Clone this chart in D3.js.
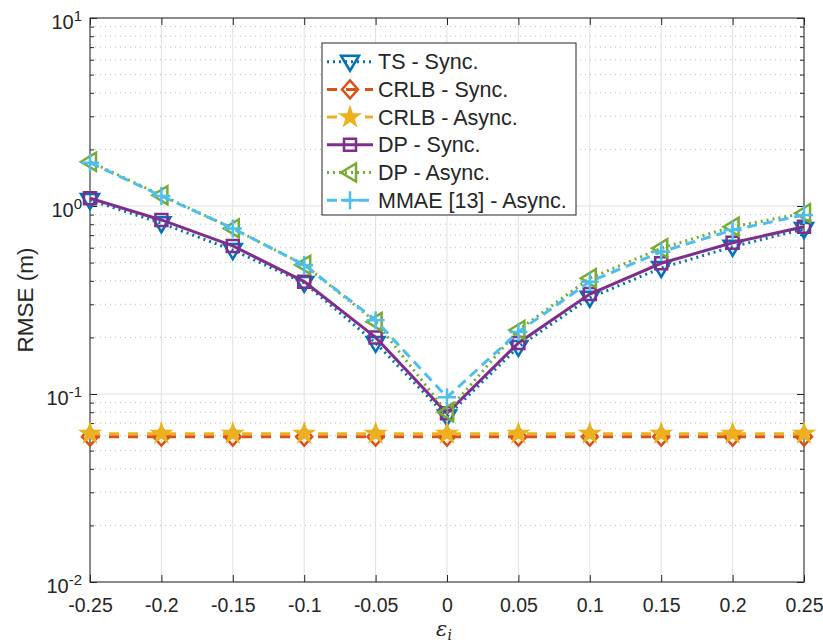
<!DOCTYPE html>
<html>
<head>
<meta charset="utf-8">
<script src="https://cdn.jsdelivr.net/npm/d3@7"></script>
<style>
  body { margin: 0; background: #fff; }
  svg text { font-family: "Liberation Sans", Arial, sans-serif; fill: #262626; }
</style>
</head>
<body>
<div id="chart"></div>
<script>
// values
const epsValues = [-0.25, -0.2, -0.15, -0.1, -0.05, 0, 0.05, 0.1, 0.15, 0.2, 0.25];
const tsSync    = [1.076, 0.81, 0.583, 0.39, 0.187, 0.076, 0.178, 0.325, 0.468, 0.607, 0.755];
const crlbSync  = [0.0593, 0.0593, 0.0593, 0.0593, 0.0593, 0.0593, 0.0593, 0.0593, 0.0593, 0.0593, 0.0593];
const crlbAsync = [0.0615, 0.0615, 0.0615, 0.0615, 0.0615, 0.0615, 0.0615, 0.0615, 0.0615, 0.0615, 0.0615];
const dpSync    = [1.10, 0.843, 0.613, 0.396, 0.20, 0.079, 0.187, 0.34, 0.496, 0.638, 0.776];
const dpAsync   = [1.72, 1.14, 0.76, 0.486, 0.242, 0.080, 0.219, 0.413, 0.596, 0.776, 0.915];
const mmaeAsync = [1.70, 1.13, 0.76, 0.486, 0.247, 0.096, 0.214, 0.396, 0.571, 0.745, 0.895];
const legendLabels = ["TS - Sync.", "CRLB - Sync.", "CRLB - Async.", "DP - Sync.", "DP - Async.", "MMAE [13] - Async."];
const xTicks = [-0.25, -0.2, -0.15, -0.1, -0.05, 0, 0.05, 0.1, 0.15, 0.2, 0.25];
const yDecades = [-2, -1, 0, 1];

const width = 823, height = 644;
const pLeft = 90, pRight = 804, pTop = 18, pBottom = 582;

const svg = d3.select("#chart").append("svg")
    .attr("width", width)
    .attr("height", height);

const x = d3.scaleLinear().domain([-0.25, 0.25]).range([pLeft, pRight]);
const y = d3.scaleLog().domain([0.01, 10]).range([pBottom, pTop]);

// grid: minor dotted, major solid
const minorVals = [];
yDecades.slice(0, -1).forEach(p => {
    for (let k = 2; k <= 9; k++) minorVals.push(k * Math.pow(10, p));
});
svg.append("g").selectAll("line")
    .data(minorVals).enter().append("line")
    .attr("x1", pLeft).attr("x2", pRight)
    .attr("y1", d => y(d)).attr("y2", d => y(d))
    .attr("stroke", "#bdbdbd").attr("stroke-width", 1)
    .attr("stroke-dasharray", "1,4");
svg.append("g").selectAll("line")
    .data(yDecades.map(p => Math.pow(10, p))).enter().append("line")
    .attr("x1", pLeft).attr("x2", pRight)
    .attr("y1", d => y(d)).attr("y2", d => y(d))
    .attr("stroke", "#e1e1e1").attr("stroke-width", 1);
svg.append("g").selectAll("line")
    .data(xTicks).enter().append("line")
    .attr("x1", d => x(d)).attr("x2", d => x(d))
    .attr("y1", pTop).attr("y2", pBottom)
    .attr("stroke", "#e1e1e1").attr("stroke-width", 1);

// axes with inward ticks
const xAxis = d3.axisBottom(x).tickValues(xTicks).tickSize(-7).tickPadding(16)
    .tickFormat(d => d === 0 ? "0" : String(d));
const gx = svg.append("g").attr("transform", `translate(0,${pBottom})`).call(xAxis);
gx.select(".domain").remove();
gx.selectAll("line").attr("stroke", "#262626");
gx.selectAll("text").style("font-size", "19.5px").attr("fill", "#262626");

const gxTop = svg.append("g").attr("transform", `translate(0,${pTop})`)
    .call(d3.axisTop(x).tickValues(xTicks).tickSize(-7).tickFormat(""));
gxTop.select(".domain").remove();
gxTop.selectAll("line").attr("stroke", "#262626");

[[d3.axisLeft, pLeft], [d3.axisRight, pRight]].forEach(([ax, pos]) => {
    const gMaj = svg.append("g").attr("transform", `translate(${pos},0)`)
        .call(ax(y).tickValues(yDecades.map(p => Math.pow(10, p))).tickSize(-7).tickFormat(""));
    gMaj.select(".domain").remove();
    gMaj.selectAll("line").attr("stroke", "#262626");
    const gMin = svg.append("g").attr("transform", `translate(${pos},0)`)
        .call(ax(y).tickValues(minorVals).tickSize(-4).tickFormat(""));
    gMin.select(".domain").remove();
    gMin.selectAll("line").attr("stroke", "#262626");
});

// box
svg.append("rect")
    .attr("x", pLeft).attr("y", pTop)
    .attr("width", pRight - pLeft).attr("height", pBottom - pTop)
    .attr("fill", "none").attr("stroke", "#262626").attr("stroke-width", 1);

// y tick labels 10^p
const yl = svg.append("g").selectAll("text")
    .data(yDecades).enter().append("text")
    .attr("x", 82)
    .attr("y", d => y(Math.pow(10, d)) + 11)
    .attr("text-anchor", "end");
yl.append("tspan").style("font-size", "20px").text("10");
yl.append("tspan").style("font-size", "15px").attr("dy", -8).text(d => String(d));

// axis labels
svg.append("text")
    .attr("transform", `translate(33,${(pTop + pBottom) / 2}) rotate(-90)`)
    .attr("text-anchor", "middle")
    .style("font-size", "22.5px")
    .text("RMSE (m)");

const xl = svg.append("text")
    .attr("x", 444).attr("y", 636)
    .attr("text-anchor", "middle")
    .style("font-family", "'DejaVu Serif', serif")
    .style("font-style", "italic");
xl.append("tspan").style("font-size", "21px").text("ε");
xl.append("tspan").style("font-size", "14px").attr("dy", 4).text("i");

// marker shapes
function markerPath(kind) {
    switch (kind) {
        case "tdown": return "M-9,-6L9,-6L0,9Z";
        case "tleft": return "M-9,0L6,-9L6,9Z";
        case "diamond": return "M0,-9L8,0L0,9L-8,0Z";
        case "square": return "M-6,-6L6,-6L6,6L-6,6Z";
        case "plus": return "M-9,0L9,0M0,-9L0,9";
        case "star": return d3.symbol(d3.symbolStar, 120)();
    }
}

const series = [
    { name: legendLabels[0], values: tsSync, color: "#0072BD", dash: "2,4", marker: "tdown", fill: "none", sw: 2.5 },
    { name: legendLabels[1], values: crlbSync, color: "#D95319", dash: "10,9", marker: "diamond", fill: "none", sw: 2.5 },
    { name: legendLabels[2], values: crlbAsync, color: "#EDB120", dash: "10,9", marker: "star", fill: "#EDB120", sw: 1.5 },
    { name: legendLabels[3], values: dpSync, color: "#7E2F8E", dash: null, marker: "square", fill: "none", sw: 2.5 },
    { name: legendLabels[4], values: dpAsync, color: "#77AC30", dash: "2,4", marker: "tleft", fill: "none", sw: 2.5 },
    { name: legendLabels[5], values: mmaeAsync, color: "#4DBEEE", dash: "10,6", marker: "plus", fill: "none", sw: 2.5 }
];

const line = d3.line().x(d => x(d[0])).y(d => y(d[1]));

series.forEach(s => {
    const pts = epsValues.map((e, i) => [e, s.values[i]]);
    svg.append("path")
        .datum(pts)
        .attr("d", line)
        .attr("fill", "none")
        .attr("stroke", s.color)
        .attr("stroke-width", 3)
        .attr("stroke-dasharray", s.dash);
    svg.append("g").selectAll("path")
        .data(pts).enter().append("path")
        .attr("d", markerPath(s.marker))
        .attr("transform", d => `translate(${x(d[0])},${y(d[1])})`)
        .attr("fill", s.fill)
        .attr("stroke", s.color)
        .attr("stroke-width", s.sw)
        .attr("stroke-linejoin", "miter");
});

// legend
const lg = svg.append("g");
lg.append("rect")
    .attr("x", 322).attr("y", 43)
    .attr("width", 254).attr("height", 172)
    .attr("fill", "#fff").attr("stroke", "#262626").attr("stroke-width", 1);
series.forEach((s, i) => {
    const cy = 61.7 + i * 27.7;
    lg.append("line")
        .attr("x1", 327).attr("x2", 373)
        .attr("y1", cy).attr("y2", cy)
        .attr("stroke", s.color).attr("stroke-width", 3)
        .attr("stroke-dasharray", s.dash);
    lg.append("path")
        .attr("d", markerPath(s.marker))
        .attr("transform", `translate(350,${cy})`)
        .attr("fill", s.fill)
        .attr("stroke", s.color)
        .attr("stroke-width", s.sw);
    lg.append("text")
        .attr("x", 378).attr("y", cy + 7.5)
        .style("font-size", "21.5px")
        .text(s.name);
});
</script>
</body>
</html>
